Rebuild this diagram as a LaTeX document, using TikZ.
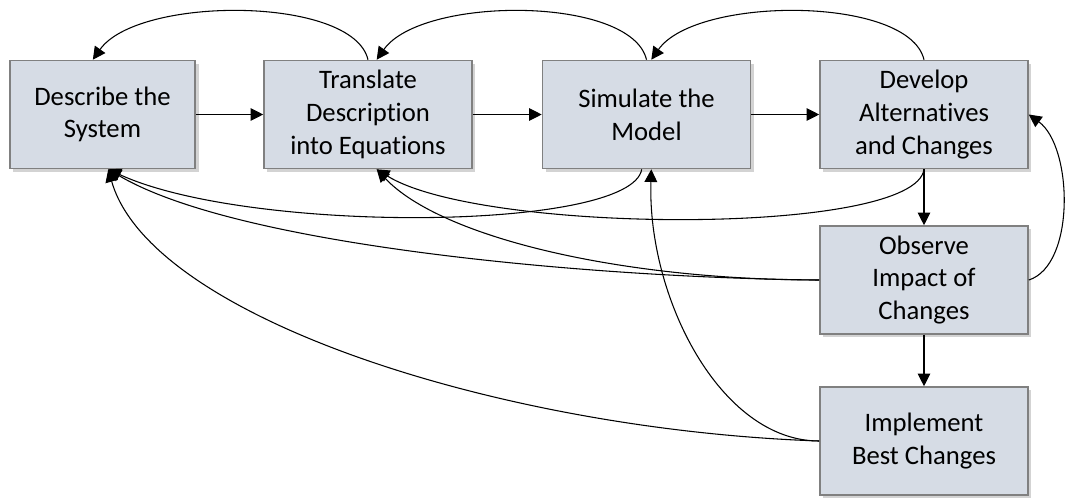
\documentclass[tikz,border=0pt]{standalone}
\usepackage{fontspec}
\setmainfont{Carlito}[Ligatures=NoCommon]
\usepackage{xcolor}
\usetikzlibrary{arrows.meta}
\usetikzlibrary{shadows}
\definecolor{boxfill}{HTML}{D6DCE5}
\definecolor{boxline}{HTML}{808080}

\begin{document}
\begin{tikzpicture}[x=0.75pt, y=-0.75pt,
    stepbox/.style={rectangle, draw=boxline, line width=1.2pt, fill=boxfill,
      minimum width=156pt, minimum height=81pt, inner sep=0pt, align=center,
      font=\fontsize{20}{24.5}\selectfont,
      drop shadow={opacity=0.35, shadow xshift=2.5pt, shadow yshift=-2.5pt}},
    link/.style={line width=0.8pt, -{Triangle[length=9.5pt, width=9.5pt]}}]
    \useasboundingbox (0,0) rectangle (1068,497);

    \node[stepbox, minimum width=139pt] (desc) at (102.5,114.5) {Describe the\\System};
    \node[stepbox] (trans) at (368,114.5) {Translate\\Description\\into Equations};
    \node[stepbox] (sim) at (646.5,114.5) {Simulate the\\Model};
    \node[stepbox] (dev) at (924,114.5) {Develop\\Alternatives\\and Changes};
    \node[stepbox] (obs) at (924,280) {Observe\\Impact of\\Changes};
    \node[stepbox] (impl) at (924,441) {Implement\\Best Changes};

    \draw[link] (desc) -- (trans);
    \draw[link] (trans) -- (sim);
    \draw[link] (sim) -- (dev);
    \draw[link] (dev) -- (obs);
    \draw[link] (obs) -- (impl);

    \draw[link] (trans.north) .. controls +(-15,-64) and +(45,-64) .. (desc.100);
    \draw[link] (sim.north) .. controls +(-15,-64) and +(45,-64) .. (trans.81);
    \draw[link] (dev.north) .. controls +(-15,-64) and +(45,-64) .. (sim.85);

    \draw[link] (sim.-95) .. controls +(-10,62) and +(141,65) .. (desc.-84);
    \draw[link] (dev.south) .. controls +(-9,67) and +(104,65) .. (trans.-81);
    \draw[link] (obs.west) .. controls +(-219,-2) and +(132,78) .. (desc.-84);
    \draw[link] (obs.west) .. controls +(-199,0) and +(64,68) .. (trans.-81);
    \draw[link] (impl.west) .. controls +(-319,-11) and +(42,148) .. (desc.-84);
    \draw[link] (impl.west) .. controls +(-99,0) and +(-4,128) .. (sim.-85);
    \draw[link] (obs.east) .. controls +(47,-15) and +(44,32) .. (dev.east);
\end{tikzpicture}
\end{document}
